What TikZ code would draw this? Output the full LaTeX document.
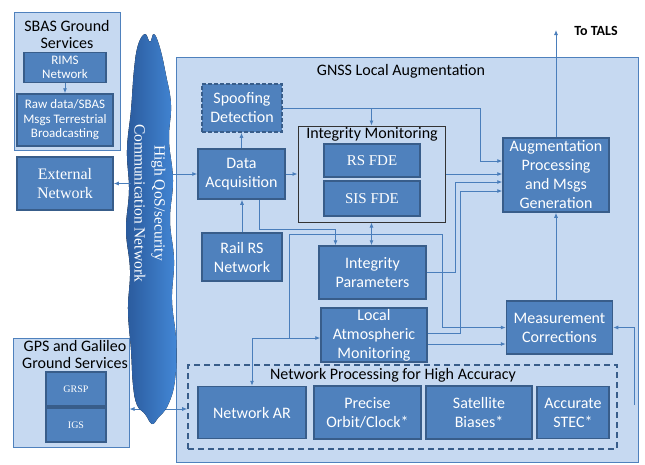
\documentclass[tikz,border=0pt]{standalone}
\usepackage{fontspec}
\setmainfont{Carlito}
\newfontfamily\tnr{Liberation Serif}
\usetikzlibrary{arrows.meta}
\definecolor{lightfill}{HTML}{C6D9F1}
\definecolor{boxfill}{HTML}{4F81BD}
\definecolor{boxline}{HTML}{385D8A}
\definecolor{grpline}{HTML}{4F81BD}
\definecolor{wireblue}{HTML}{4A7EBB}
\definecolor{cloudL}{HTML}{2A5A9C}
\definecolor{cloudR}{HTML}{4387D6}

\begin{document}
\begin{tikzpicture}[x=1pt,y=-1pt,
    blk/.style={draw=boxline,fill=boxfill,line width=1.5pt,text=white,align=center,inner sep=0pt,font=\fontsize{16}{19}\selectfont},
    grp/.style={draw=grpline,fill=lightfill,line width=1pt,inner sep=0pt},
    ttl/.style={align=center,inner sep=0pt,font=\fontsize{16}{17.5}\selectfont},
    wire/.style={draw=wireblue,line width=0.8pt},
    arr/.style={wire,-{Latex[length=5pt,width=4pt]}},
    both/.style={wire,{Latex[length=5pt,width=4pt]}-{Latex[length=5pt,width=4pt]}}]

    \useasboundingbox (0,0) rectangle (645,464);

    \node[grp,minimum width=106,minimum height=138] (sbas) at (67,81) {};
    \node[ttl] (sbasttl) at (67,34.5) {SBAS Ground\\Services};
    \node[blk,minimum width=82,minimum height=30,font=\fontsize{13}{14}\selectfont] (rims) at (65,67.5) {RIMS\\Network};
    \node[blk,minimum width=96,minimum height=52,font=\fontsize{13}{14.5}\selectfont] (raw) at (65,120) {Raw data/SBAS\\Msgs Terrestrial\\Broadcasting};
    \node[blk,minimum width=96,minimum height=53,font=\tnr\fontsize{16}{19}\selectfont] (ext) at (65,183.5) {External\\Network};

    \node[grp,minimum width=116,minimum height=109] (gps) at (71,392.5) {};
    \node[ttl] (gpsttl) at (75,354.5) {GPS and Galileo\\Ground Services};
    \node[blk,minimum width=60,minimum height=34,font=\tnr\fontsize{10}{12}\selectfont] (grsp) at (76,389) {GRSP};
    \node[blk,minimum width=60,minimum height=34,font=\tnr\fontsize{10}{12}\selectfont] (igs) at (76,425) {IGS};

    \node[grp,minimum width=462,minimum height=405] (gnss) at (407,259.5) {};
    \node[ttl] (gnssttl) at (401,71) {GNSS Local Augmentation};

    \node[grp,draw=black!80,line width=1pt,minimum width=147,minimum height=96] (im) at (371.5,174) {};
    \node[ttl] (imttl) at (372,134) {Integrity Monitoring};
    \node[blk,minimum width=96,minimum height=33,font=\tnr\fontsize{15}{17}\selectfont] (rsfde) at (372,160.5) {RS FDE};
    \node[blk,minimum width=96,minimum height=35,font=\tnr\fontsize{15}{17}\selectfont] (sisfde) at (372,198.5) {SIS FDE};

    \node[grp,draw=boxline,dash pattern=on 6pt off 4pt,line width=1.6pt,minimum width=429,minimum height=84] (npha) at (402.5,407) {};
    \node[ttl] (nphattl) at (393,375) {Network Processing for High Accuracy};

    \coordinate (gline) at (150,409);
    \draw[both] (gline -| gps.east) -- (gline -| npha.west);

    \fill[left color=cloudL,right color=cloudR] plot[smooth cycle,tension=0.7] coordinates {
        (134,70) (138,45) (145,34) (150,42) (154,34) (160,48) (166,75) (171,105)
        (169,140) (173,180) (170,220) (174,260) (172,300) (176,340) (175,380) (168,405)
        (158,418) (152,424) (145,414) (137,405) (133,385) (131,350) (128,310) (130,270)
        (126,230) (129,190) (127,150) (131,110)};
    \node[rotate=-90,align=center,text=white,inner sep=0pt,font=\tnr\fontsize{15.5}{20}\selectfont] (net) at (150,203) {High QoS/security\\Communication Network};

    \node[blk,dash pattern=on 4pt off 2pt,minimum width=80,minimum height=48] (spoof) at (242,108) {Spoofing\\Detection};
    \node[blk,minimum width=87,minimum height=50] (acq) at (241.5,174) {Data\\Acquisition};
    \node[blk,minimum width=106,minimum height=74] (aug) at (556,175) {Augmentation\\Processing\\and Msgs\\Generation};
    \node[blk,minimum width=80,minimum height=48] (rail) at (242,257) {Rail RS\\Network};
    \node[blk,minimum width=107,minimum height=53] (ip) at (372.5,272.5) {Integrity\\Parameters};
    \node[blk,minimum width=106,minimum height=54] (lam) at (374,335) {Local\\Atmospheric\\Monitoring};
    \node[blk,minimum width=106,minimum height=53] (mc) at (559.5,327.5) {Measurement\\Corrections};
    \node[blk,minimum width=108,minimum height=52] (nar) at (252,412.5) {Network AR};
    \node[blk,minimum width=107,minimum height=53] (poc) at (367.5,412.5) {Precise\\Orbit/Clock*};
    \node[blk,minimum width=106,minimum height=53] (sb) at (479,412.5) {Satellite\\Biases*};
    \node[blk,minimum width=72,minimum height=52] (stec) at (573,412.5) {Accurate\\STEC*};

    \node[inner sep=0pt,font=\bfseries\fontsize{14}{16}\selectfont] (tals) at (596,31) {To TALS};
    \coordinate (talsend) at (555,30);

    \draw[arr] (rims.south) -- (raw.north);
    \coordinate (cR) at (172,174);
    \draw[arr] (cR) -- (acq.west);
    \coordinate (cL) at (131,183.5);
    \draw[arr] (cL) -- (ext.east);

    \draw[arr] (acq.north) -- (acq.north |- spoof.south);
    \draw[arr] (acq.east) -- (im.west);
    \draw[arr] (rail.north) -- (rail.north |- acq.south);

    \coordinate (a1) at (480,161);
    \draw[arr] (spoof.east) -| (a1) -- (a1 -| aug.west);
    \draw[arr] (spoof.east -| im.north) -- (im.north);
    \draw[arr] (im.east) -- (im.east -| aug.west);
    \coordinate (a3) at (455,182);
    \draw[arr] (ip.east) -| (a3) -- (a3 -| aug.west);
    \coordinate (a4) at (460,191);
    \draw[arr] ([yshift=2pt]lam.east) -| (a4) -- (a4 -| aug.west);

    \draw[arr] ([xshift=17.5pt]acq.south) -- ++(0,30) -| ([xshift=-37pt]ip.north);
    \draw[both] (im.south) -- (im.south |- ip.north);

    \coordinate (b1) at (289,234);
    \coordinate (b2) at (442,234);
    \coordinate (b3) at (252,338);
    \draw[wire] (b1) -- (b2);
    \draw[arr] (b1) |- ([yshift=-3pt]lam.west);
    \draw[arr] (b2) |- (mc.west);
    \draw[wire] (b3) -- (b3 -| b1);
    \draw[arr] (b3) -- (b3 |- nar.north);

    \draw[arr] ([yshift=-9pt]lam.east) -- ([yshift=-9pt]lam.east -| mc.west);
    \draw[arr] (mc.north -| aug.south) -- (aug.south);
    \draw[arr] (aug.north) -- (aug.north |- talsend);
    \coordinate (c1) at (634,405);
    \draw[arr] (c1) |- (mc.east);
\end{tikzpicture}
\end{document}
